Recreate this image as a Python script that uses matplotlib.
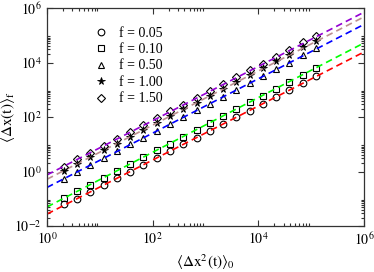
import matplotlib
matplotlib.use("Agg")
import matplotlib.pyplot as plt
from matplotlib.ticker import FixedLocator, FuncFormatter
import numpy as np

plt.rcParams['font.family'] = ['Liberation Serif', 'DejaVu Serif']
plt.rcParams['mathtext.fontset'] = 'stix'

# <dx^2(t)>_0 values (same for every f)
x = [2.1, 3.7, 6.6, 11.8, 21, 37.6, 67, 119, 213, 379, 676, 1205,
     2150, 3830, 6820, 12160, 21700, 38600, 68900, 123000]

labels = ['f = 0.05', 'f = 0.10', 'f = 0.50', 'f = 1.00', 'f = 1.50']

y_005 = [0.062, 0.102, 0.18, 0.32, 0.56, 0.99, 1.78, 3.1, 5.6, 9.9, 17.6, 31,
         55, 98, 172, 306, 545, 960, 1720, 3100]
y_010 = [0.108, 0.19, 0.33, 0.59, 1.05, 1.9, 3.35, 6.0, 10.6, 19, 34, 60,
         108, 192, 342, 610, 1090, 1940, 3460, 6150]
y_050 = [0.55, 0.97, 1.72, 3.05, 5.5, 9.8, 17.4, 31, 55, 99, 175, 312,
         555, 990, 1770, 3150, 5600, 10000, 18500, 33000]
y_100 = [1.05, 1.9, 3.3, 6.0, 10.6, 19, 34, 60, 107, 192, 340, 610,
         1080, 1930, 3450, 6100, 10900, 19500, 38000, 64000]
y_150 = [1.45, 2.8, 4.9, 8.8, 15.8, 28, 50, 89, 160, 285, 510, 905,
         1610, 2880, 5150, 9150, 16300, 29500, 56000, 95000]

# fitted power laws  y = a * x^b
fit_a = [0.0275, 0.050, 0.26, 0.52, 0.75]
fit_b = [0.991, 1.003, 0.997, 0.993, 0.995]

series = [y_005, y_010, y_050, y_100, y_150]
markers = ['o', 's', '^', '*', 'D']
msizes = [4.8, 4.5, 4.8, 5.5, 4.5]
colors = ['#ff0000', '#00ff00', '#0000ff', '#bc8f8f', '#9400d3']

fig = plt.figure(figsize=(3.74, 2.72), dpi=100)
ax = fig.add_axes([47/374, 1-226/272, 317/374, 218/272])

xf = np.logspace(0, 6, 50)
for ys, m, ms, c, a, b, lab in zip(series, markers, msizes, colors, fit_a, fit_b, labels):
    if m == '*':
        ax.plot(x, ys, ls='none', marker=m, ms=ms, mfc='black', mec='black',
                mew=0.6, label=lab)
    else:
        ax.plot(x, ys, ls='none', marker=m, ms=ms, mfc='none', mec='black',
                mew=0.8, label=lab)
    ax.plot(xf, a * xf**b, ls=(0, (4, 2.5)), color=c, lw=1.2)

ax.set_xscale('log')
ax.set_yscale('log')
ax.set_xlim(1, 1e6)
ax.set_ylim(1e-2, 1e6)

xmaj = [10.0**k for k in range(0, 7, 2)]
ymaj = [10.0**k for k in range(-2, 7, 2)]
xmin = [m * 10.0**k for k in range(0, 6, 2) for m in range(2, 10)]
ymin = [m * 10.0**k for k in range(-2, 6, 2) for m in range(2, 10)]
ax.xaxis.set_major_locator(FixedLocator(xmaj))
ax.yaxis.set_major_locator(FixedLocator(ymaj))
ax.xaxis.set_minor_locator(FixedLocator(xmin))
ax.yaxis.set_minor_locator(FixedLocator(ymin))
fmt = FuncFormatter(lambda v, p: r'$10^{%d}$' % round(np.log10(v)))
ax.xaxis.set_major_formatter(fmt)
ax.yaxis.set_major_formatter(fmt)
ax.xaxis.set_minor_formatter(FuncFormatter(lambda v, p: ''))
ax.yaxis.set_minor_formatter(FuncFormatter(lambda v, p: ''))

ax.tick_params(which='both', direction='in', top=True, right=True,
               labelsize=10, colors='#333333', labelcolor='black', width=0.8)
ax.tick_params(which='major', length=4, pad=4)
ax.tick_params(which='minor', length=2)
for s in ax.spines.values():
    s.set_color('#333333')
    s.set_linewidth(0.9)

ax.set_xlabel(r'$\langle\Delta\mathrm{x}^2\mathrm{(t)}\rangle_0$', fontsize=11, labelpad=3)
ax.set_ylabel(r'$\langle\Delta\mathrm{x(t)}\rangle_\mathrm{f}$', fontsize=11)
ax.yaxis.set_label_coords(-0.095, 0.5)

ax.legend(loc='upper left', bbox_to_anchor=(0.147, 0.915), frameon=False,
          fontsize=10, handlelength=1.0, handletextpad=0.8, labelspacing=0.25,
          borderpad=0, borderaxespad=0)

fig.savefig('out.png', dpi=100)
